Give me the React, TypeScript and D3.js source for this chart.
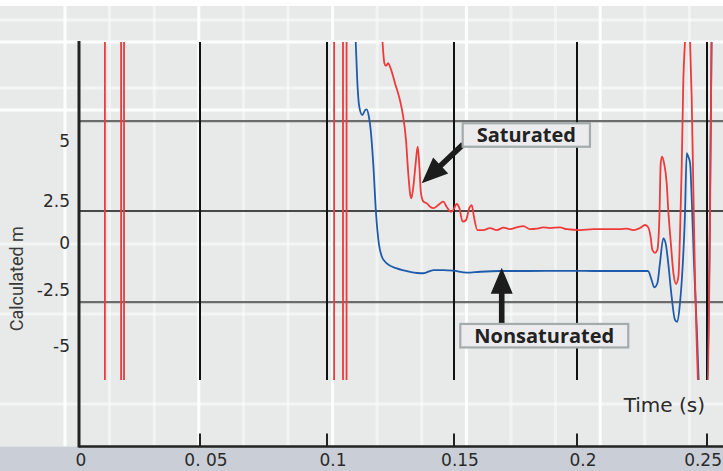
import React, { useRef, useEffect } from 'react';
import * as d3 from 'd3';

// Axis ticks
const timeTicks = [0, 0.05, 0.1, 0.15, 0.2, 0.25];
const timeTickLabels = ['0', '0. 05', '0.1', '0.15', '0.2', '0.25'];
const mTicks = [5, 2.5, 0, -2.5, -5];
const mTickLabels = ['5', '2.5', '0', '-2.5', '-5'];

// Horizontal reference lines (m) and vertical marker lines (s)
const refLineValues = [5.83, 1.9, -3.04];
const refLineKinds = ['gray', 'black', 'gray'];
const markerTimes = [0.05, 0.1, 0.15, 0.2, 0.25];

// Saturated run: full-range spikes before the main transient (s)
const spikeTimes = [0.0107, 0.0174, 0.0186, 0.1028, 0.1063, 0.1077];

// Saturated response
const satTime = [
  0.1217, 0.1226, 0.1232, 0.1241, 0.1248, 0.1268, 0.1287, 0.13, 0.1311, 0.1319,
  0.1327, 0.1332, 0.134, 0.1349, 0.1357, 0.1363, 0.137, 0.138, 0.1393, 0.1406,
  0.1419, 0.1438, 0.1458, 0.1471, 0.1488, 0.1497, 0.1511, 0.1522, 0.1535, 0.1549,
  0.1562, 0.1572, 0.1581, 0.1595, 0.1619, 0.1646, 0.1674, 0.1701, 0.1728, 0.1755,
  0.1782, 0.1809, 0.1836, 0.1863, 0.189, 0.1931, 0.1958, 0.2012, 0.2063, 0.2114,
  0.2165, 0.2191, 0.2217, 0.2242, 0.2262, 0.2274, 0.2283, 0.229, 0.23, 0.2309,
  0.2317, 0.2322, 0.2327, 0.2335, 0.2345, 0.2351, 0.2361, 0.2371, 0.2381, 0.239,
  0.2396, 0.2403, 0.2409, 0.2415, 0.2419, 0.2431, 0.2435, 0.2441, 0.2448, 0.2454,
  0.2461, 0.2465, 0.2471, 0.25, 0.2518,
];
const satM = [
  9.4, 8.24, 8.13, 8.24, 8.1, 7.4, 6.71, 6.01, 5.04, 3.79,
  2.82, 2.61, 3.1, 4.07, 4.76, 4.07, 2.82, 2.46, 2.36, 2.16,
  2.07, 2.26, 2.46, 2.16, 1.86, 1.96, 2.32, 2.07, 1.27, 1.37,
  2.07, 2.26, 1.57, 0.77, 0.77, 0.88, 0.77, 0.91, 0.82, 0.93,
  1.01, 0.82, 0.85, 0.93, 0.89, 0.93, 0.82, 0.77, 0.82, 0.82,
  0.82, 0.85, 0.77, 0.89, 1.07, 0.93, 0.38, -0.37, -0.52, -0.37,
  1.57, 4.07, 4.35, 4.07, 3.24, 1.96, -0.02, -1.61, -2.18, -1.79,
  0.38, 4.07, 7.54, 9.07, 10.0, 10.0, 9.07, 6.85, 2.68, -1.97,
  -5.03, -6.52, -7.5, -7.5, 10.0,
];

// Nonsaturated response
const nonsatTime = [
  0.1112, 0.1119, 0.1127, 0.1139, 0.115, 0.1156, 0.1165, 0.1172, 0.1182, 0.1193,
  0.1204, 0.1216, 0.1235, 0.1275, 0.1327, 0.1379, 0.1419, 0.1458, 0.1497, 0.1552,
  0.1606, 0.1687, 0.18, 0.195, 0.21, 0.22, 0.2273, 0.2287, 0.2297, 0.2309,
  0.2319, 0.2332, 0.2341, 0.2351, 0.2364, 0.2377, 0.2386, 0.2396, 0.2407, 0.2415,
  0.2422, 0.2428, 0.2435, 0.2441, 0.245, 0.2461, 0.2468, 0.2474, 0.2498, 0.2518,
];
const nonsatM = [
  9.4, 7.54, 6.43, 6.08, 6.29, 6.32, 6.01, 5.46, 4.07, 1.77,
  -0.02, -0.73, -1.08, -1.35, -1.53, -1.61, -1.44, -1.44, -1.47, -1.58,
  -1.53, -1.49, -1.49, -1.48, -1.49, -1.49, -1.49, -1.97, -2.36, -2.14,
  -1.08, 0.28, -0.02, -1.08, -2.8, -3.84, -3.92, -3.09, -1.08, 1.57,
  4.49, 4.35, 4.07, 2.68, -1.08, -4.29, -6.52, -7.5, -7.5, 9.6,
];

// Visible m window of the trace area
const mView = [-6.52, 9.12];

// Callouts: arrow tip, arrow tail and label centre, in (s, m)
const calloutLabels = ['Saturated', 'Nonsaturated'];
const calloutTips = [[0.1373, 3.24], [0.1694, -1.31]];
const calloutTails = [[0.1537, 4.86], [0.1694, -3.97]];
const calloutCentres = [[0.1794, 5.25], [0.1867, -4.54]];

const W = 723;
const H = 471;
const AXIS_Y = 446.5;

const App: React.FC = () => {
  const svgRef = useRef<SVGSVGElement>(null);

  useEffect(() => {
    document.body.style.margin = '0';
    if (!svgRef.current) return;
    const svg = d3.select(svgRef.current);
    svg.selectAll('*').remove();

    // scanned figure: tick spacing is not quite even, so piecewise scales
    const x = d3.scaleLinear().domain(timeTicks).range([79, 200, 327, 454, 577, 707]);
    const y = d3.scaleLinear().domain(mTicks).range([141, 201, 243, 290, 346]);
    const top = y(mView[1]);
    const bottom = y(mView[0]);

    // paper background
    svg.append('rect').attr('width', W).attr('height', H).attr('fill', '#ffffff');
    svg.append('rect').attr('y', 6).attr('width', W).attr('height', AXIS_Y - 6).attr('fill', '#e8eaea');
    const tex = svg.append('g');
    d3.range(65, W, 44.6).forEach((v, i) => {
      tex.append('line').attr('x1', v).attr('x2', v).attr('y1', 6).attr('y2', AXIS_Y)
        .attr('stroke', '#ffffff').attr('stroke-width', 3)
        .attr('opacity', i % 3 === 0 ? 0.95 : 0.45);
    });
    [20, 42, 88, 110, 244, 314, 404].forEach((v, i) => {
      tex.append('line').attr('x1', 0).attr('x2', W).attr('y1', v).attr('y2', v)
        .attr('stroke', '#ffffff').attr('stroke-width', 3)
        .attr('opacity', i === 1 || i === 3 ? 0.95 : 0.5);
    });
    svg.append('rect').attr('y', AXIS_Y).attr('width', W).attr('height', H - AXIS_Y).attr('fill', '#cacfd7');

    // reference lines
    refLineValues.forEach((v, i) => {
      svg.append('line')
        .attr('x1', x(0)).attr('x2', W).attr('y1', y(v)).attr('y2', y(v))
        .attr('stroke', refLineKinds[i] === 'black' ? '#111' : '#6c6c6c')
        .attr('stroke-width', refLineKinds[i] === 'black' ? 1.5 : 2.2);
    });

    // vertical markers
    markerTimes.forEach(t => {
      svg.append('line')
        .attr('x1', x(t)).attr('x2', x(t)).attr('y1', top).attr('y2', bottom)
        .attr('stroke', '#111').attr('stroke-width', 2);
    });

    // clipped trace area
    svg.append('defs').append('clipPath').attr('id', 'trace-clip')
      .append('rect').attr('x', x(0)).attr('y', top).attr('width', W - x(0)).attr('height', bottom - top);
    const traces = svg.append('g').attr('clip-path', 'url(#trace-clip)');

    spikeTimes.forEach(t => {
      traces.append('line')
        .attr('x1', x(t)).attr('x2', x(t)).attr('y1', top).attr('y2', bottom)
        .attr('stroke', '#ef3a3a').attr('stroke-width', 1.8);
    });

    const line = d3.line<number>()
      .x(d => x(d))
      .curve(d3.curveMonotoneX);

    traces.append('path')
      .attr('d', line.y((_, i) => y(nonsatM[i]))(nonsatTime))
      .attr('fill', 'none').attr('stroke', '#1f5bab').attr('stroke-width', 1.8);
    traces.append('path')
      .attr('d', line.y((_, i) => y(satM[i]))(satTime))
      .attr('fill', 'none').attr('stroke', '#ef3a3a').attr('stroke-width', 1.8);

    // axes
    svg.append('line').attr('x1', x(0)).attr('x2', x(0)).attr('y1', top - 1).attr('y2', AXIS_Y + 1)
      .attr('stroke', '#222').attr('stroke-width', 3);
    svg.append('line').attr('x1', x(0)).attr('x2', W).attr('y1', AXIS_Y).attr('y2', AXIS_Y)
      .attr('stroke', '#222').attr('stroke-width', 2.5);

    const font = '"DejaVu Sans", Verdana, sans-serif';
    timeTicks.forEach((t, i) => {
      if (i > 0) {
        svg.append('line').attr('x1', x(t)).attr('x2', x(t)).attr('y1', AXIS_Y - 13).attr('y2', AXIS_Y)
          .attr('stroke', '#222').attr('stroke-width', 2);
      }
      const last = i === timeTicks.length - 1;
      svg.append('text')
        .attr('x', last ? W - 1 : x(t) + (i === 0 ? 2 : 6))
        .attr('y', 466)
        .attr('text-anchor', last ? 'end' : 'middle')
        .attr('font-family', font).attr('font-size', 17).attr('fill', '#2a2a2a')
        .text(timeTickLabels[i]);
    });

    mTicks.forEach((v, i) => {
      svg.append('text')
        .attr('x', 70).attr('y', y(v)).attr('dy', '0.36em')
        .attr('text-anchor', 'end')
        .attr('font-family', font).attr('font-size', 17).attr('fill', '#2a2a2a')
        .text(mTickLabels[i]);
    });

    svg.append('text')
      .attr('transform', `translate(23,${y(-1.9)}) rotate(-90)`)
      .attr('text-anchor', 'middle')
      .attr('font-family', 'Roboto, sans-serif').attr('font-size', 18).attr('fill', '#3a3a3a')
      .text('Calculated m');

    svg.append('text')
      .attr('x', 705).attr('y', 412).attr('text-anchor', 'end')
      .attr('font-family', font).attr('font-size', 20).attr('fill', '#2a2a2a')
      .text('Time (s)');

    // callouts
    calloutLabels.forEach((label, i) => {
      const [tx, ty] = [x(calloutTips[i][0]), y(calloutTips[i][1])];
      const [sx, sy] = [x(calloutTails[i][0]), y(calloutTails[i][1])];
      const len = Math.hypot(tx - sx, ty - sy);
      const ux = (tx - sx) / len, uy = (ty - sy) / len;
      const px = -uy, py = ux;
      const headLen = 26, headW = 11, shaftW = 2.8;
      const bx = tx - ux * headLen, by = ty - uy * headLen;
      const pts: [number, number][] = [
        [sx + px * shaftW, sy + py * shaftW],
        [bx + px * shaftW, by + py * shaftW],
        [bx + px * headW, by + py * headW],
        [tx, ty],
        [bx - px * headW, by - py * headW],
        [bx - px * shaftW, by - py * shaftW],
        [sx - px * shaftW, sy - py * shaftW],
      ];
      svg.append('polygon').attr('points', pts.map(p => p.join(',')).join(' ')).attr('fill', '#1c1c1c');

      const cx = x(calloutCentres[i][0]), cy = y(calloutCentres[i][1]);
      const g = svg.append('g');
      const box = g.append('rect');
      const txt = g.append('text')
        .attr('x', cx).attr('y', cy).attr('dy', '0.35em')
        .attr('text-anchor', 'middle')
        .attr('font-family', '"Open Sans", sans-serif').attr('font-weight', 700)
        .attr('font-size', 20).attr('fill', '#222')
        .text(label);
      const tw = (txt.node() as SVGTextElement).getComputedTextLength();
      const bw = tw + 28, bh = 23.5;
      box.attr('x', cx - bw / 2).attr('y', cy - bh / 2).attr('width', bw).attr('height', bh)
        .attr('fill', '#ececee').attr('stroke', '#a3acab').attr('stroke-width', 2.2);
    });
  }, []);

  return <svg ref={svgRef} width={W} height={H} style={{ display: 'block' }} />;
};

export default App;
